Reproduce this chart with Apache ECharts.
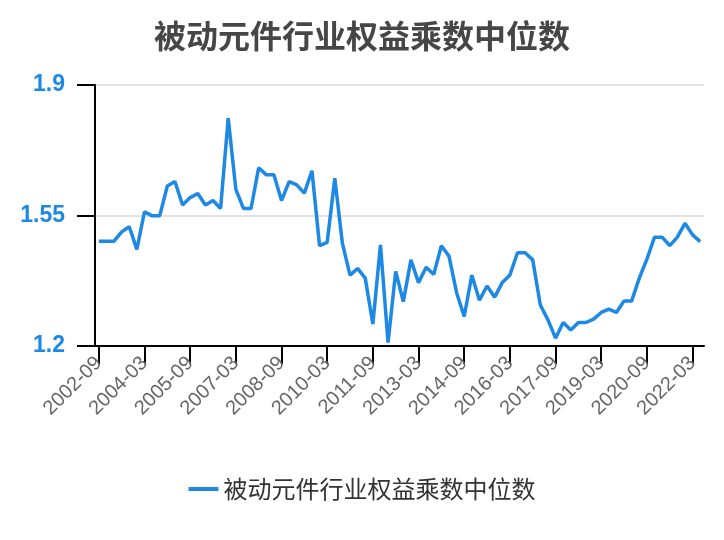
<!DOCTYPE html>
<html>
<head>
<meta charset="utf-8">
<script src="https://cdn.jsdelivr.net/npm/echarts@6/dist/echarts.min.js"></script>
<style>html,body{margin:0;padding:0;background:#fff}#c{width:724px;height:540px}</style>
</head>
<body>
<div id="c"></div>
<script>
const title = "被动元件行业权益乘数中位数";
const seriesName = "被动元件行业权益乘数中位数";
const startYear = 2002, startMonth = 9, nQuarters = 80;
const categories = [];
for (let i = 0; i < nQuarters; i++) {
  const m = startMonth - 1 + i * 3;
  const y = startYear + Math.floor(m / 12);
  const mm = (m % 12) + 1;
  categories.push(y + "-" + (mm < 10 ? "0" + mm : mm));
}
const values = [
  1.481, 1.481, 1.481, 1.506, 1.520, 1.459, 1.560, 1.549, 1.549, 1.629,
  1.641, 1.578, 1.598, 1.609, 1.578, 1.590, 1.569, 1.811, 1.620, 1.569,
  1.569, 1.678, 1.659, 1.659, 1.590, 1.641, 1.632, 1.610, 1.670, 1.469,
  1.478, 1.650, 1.475, 1.390, 1.408, 1.382, 1.259, 1.471, 1.209, 1.400,
  1.319, 1.431, 1.370, 1.411, 1.392, 1.469, 1.441, 1.343, 1.279, 1.390,
  1.323, 1.361, 1.331, 1.370, 1.390, 1.450, 1.450, 1.431, 1.310, 1.270,
  1.221, 1.263, 1.243, 1.263, 1.263, 1.272, 1.290, 1.299, 1.290, 1.321,
  1.321, 1.382, 1.433, 1.492, 1.492, 1.469, 1.492, 1.529, 1.498, 1.480
];
const yMin = 1.2, yMax = 1.9, yInterval = 0.35;

const chart = echarts.init(document.getElementById('c'));
chart.setOption({
  animation: false,
  title: {
    text: title, left: 'center', top: 15,
    textStyle: { fontSize: 32, fontWeight: 'bold', color: '#464646', fontFamily: 'Noto Sans CJK SC' }
  },
  legend: {
    bottom: 34, left: 'center',
    icon: 'path://M0,0 L30,0 L30,4 L0,4 Z',
    itemWidth: 30, itemHeight: 4, itemGap: 10,
    textStyle: { fontSize: 24, color: '#333', fontFamily: 'Noto Sans CJK SC' },
    data: [seriesName]
  },
  grid: { left: 95, right: 20, top: 85, bottom: 194, containLabel: false },
  xAxis: {
    type: 'category', data: categories, boundaryGap: true,
    axisLine: { lineStyle: { color: '#000', width: 2 } },
    axisTick: { show: true, alignWithLabel: true, interval: 5, length: 18, lineStyle: { color: '#000', width: 2 } },
    axisLabel: { interval: 5, rotate: 45, fontSize: 20, color: '#666', margin: 14, fontFamily: 'Arial' }
  },
  yAxis: {
    type: 'value', min: yMin, max: yMax, interval: yInterval,
    axisLine: { show: true, lineStyle: { color: '#000', width: 2 } },
    axisTick: { show: true, length: 18, lineStyle: { color: '#000', width: 2 } },
    axisLabel: { fontSize: 23, fontWeight: 'bold', color: '#1E88E5', margin: 30, fontFamily: 'Arial' },
    splitLine: { show: true, lineStyle: { color: '#e3e3e3', width: 2 } }
  },
  series: [{
    name: seriesName, type: 'line', data: values, showSymbol: false, symbol: 'none',
    lineStyle: { color: '#1E88E5', width: 3.5 }, itemStyle: { color: '#1E88E5' }
  }]
});
</script>
</body>
</html>
